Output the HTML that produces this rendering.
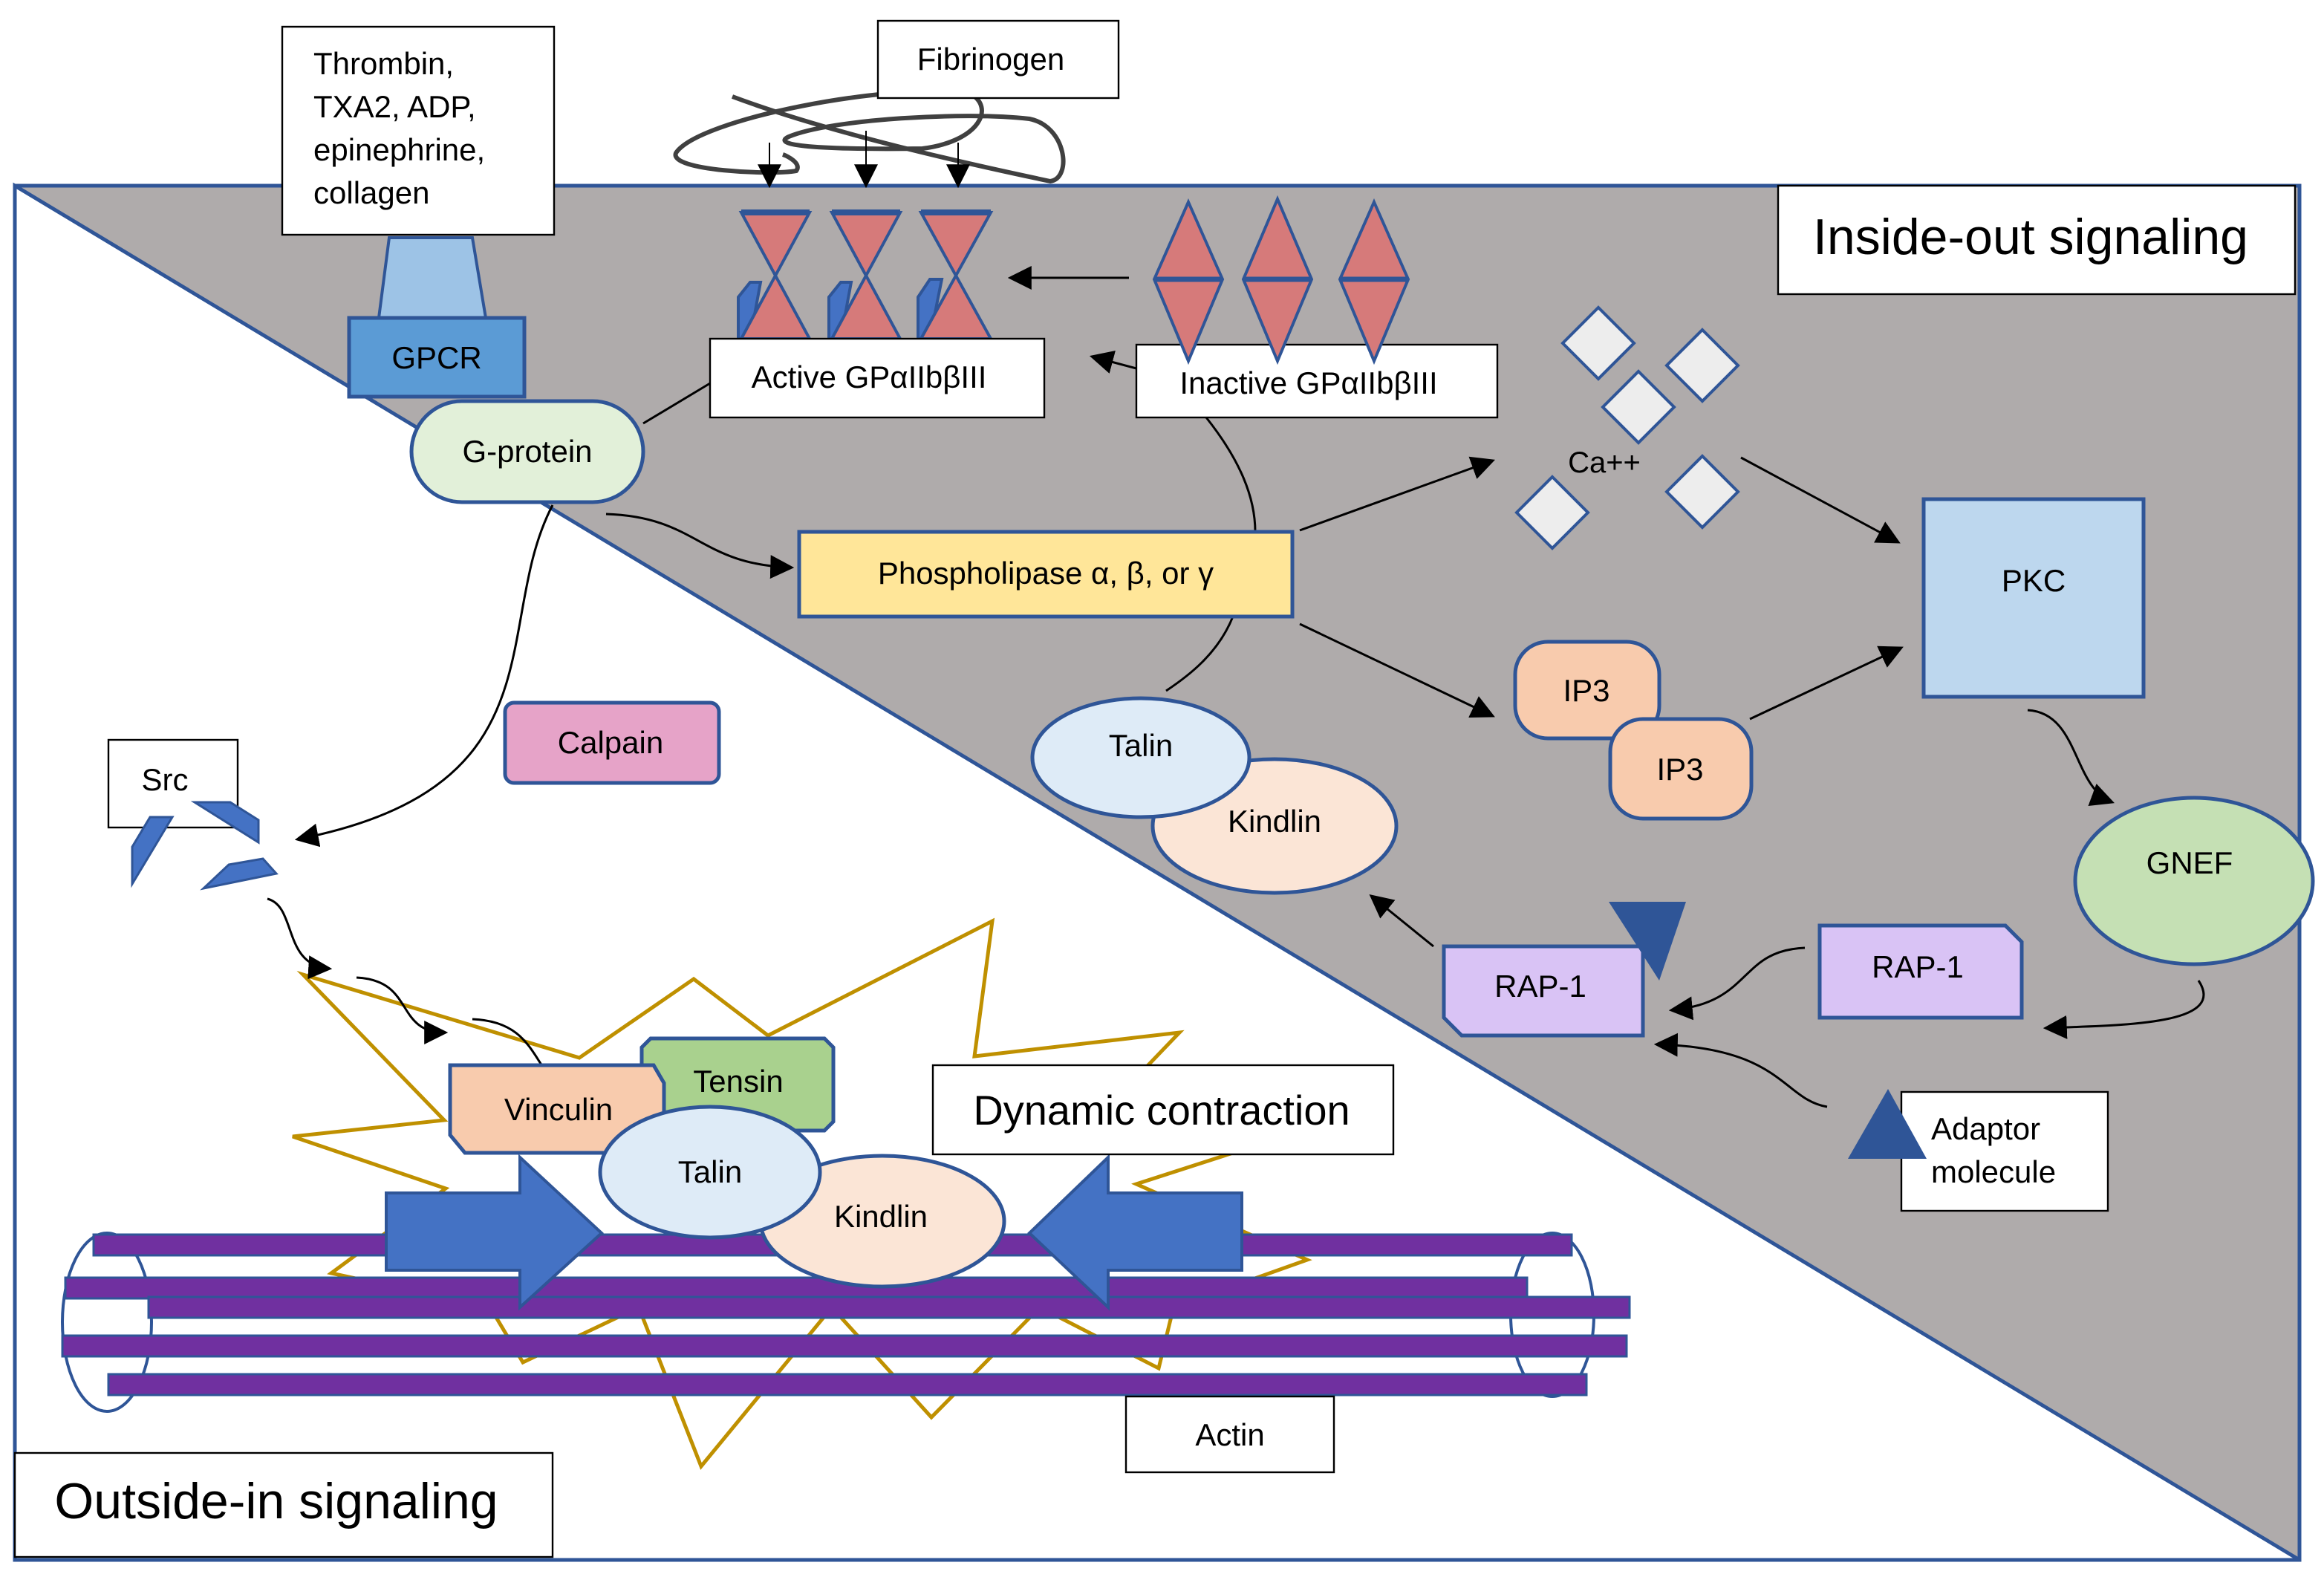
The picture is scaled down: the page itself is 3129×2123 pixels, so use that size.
<!DOCTYPE html>
<html><head><meta charset="utf-8"><style>html,body{margin:0;padding:0;background:#fff}svg{display:block}text{font-family:"Liberation Sans",sans-serif;fill:#000}</style></head><body>
<svg width="3129" height="2123" viewBox="0 0 1564.5 1061.5" xmlns="http://www.w3.org/2000/svg">
<defs>
<marker id="ab" viewBox="0 0 10 10" refX="9" refY="5" markerWidth="16" markerHeight="16" orient="auto" markerUnits="userSpaceOnUse"><path d="M0,0L10,5L0,10z" fill="#000"/></marker>
</defs>
<rect width="1564.5" height="1061.5" fill="#fff"/>
<polygon points="10,125 1548,125 1548,1050" fill="#AFABAB"/>
<polyline points="10,125 1548,125 1548,1050 10,1050 10,125 1548,1050" fill="none" stroke="#2F5597" stroke-width="2.5"/>

<!-- fibrinogen -->
<path d="M493,65 C560,90 650,110 707,122 C722,120 718,85 693,80 C650,75 560,80 531,92 C520,97 540,101 621,100 C660,95 670,72 653,63 C600,55 470,80 455,103 C450,115 520,118 536,115 C540,110 530,105 527,104" fill="none" stroke="#404040" stroke-width="3"/>
<line x1="518" y1="96" x2="518" y2="125" stroke="#000" stroke-width="1" marker-end="url(#ab)"/>
<line x1="583" y1="88" x2="583" y2="125" stroke="#000" stroke-width="1" marker-end="url(#ab)"/>
<line x1="645" y1="96" x2="645" y2="125" stroke="#000" stroke-width="1" marker-end="url(#ab)"/>
<rect x="591" y="14" width="162" height="52" fill="#fff" stroke="#000" stroke-width="1.2"/>
<text x="667" y="47" font-size="21" text-anchor="middle">Fibrinogen</text>

<!-- starburst -->
<polygon points="204,656 390,712 467,659 517,697 668,620 656,711 794,695 770,720 830,776 765,797 880,848 790,880 780,921 700,880 627,954 560,880 472,987 430,880 352,917 330,880 223,857 300,800 197,765 299,754" fill="none" stroke="#BF9000" stroke-width="2.5"/>

<!-- thrombin box, GPCR -->
<rect x="190" y="18" width="183" height="140" fill="#fff" stroke="#000" stroke-width="1.2"/>
<text font-size="21"><tspan x="211" y="50">Thrombin,</tspan><tspan x="211" y="79">TXA2, ADP,</tspan><tspan x="211" y="108">epinephrine,</tspan><tspan x="211" y="137">collagen</tspan></text>
<polygon points="262,160 318,160 327,214 255,214" fill="#9DC3E6" stroke="#2F5597" stroke-width="2"/>
<rect x="235" y="214" width="118" height="53" fill="#5B9BD5" stroke="#2F5597" stroke-width="2.5"/>
<text x="294" y="248" font-size="21" text-anchor="middle">GPCR</text>
<rect x="277" y="270" width="156" height="68" rx="34" fill="#E2F0D9" stroke="#2F5597" stroke-width="2.5"/>
<text x="355" y="311" font-size="21" text-anchor="middle">G-protein</text>

<!-- active integrins -->
<g fill="#D67A7A" stroke="#2F5597" stroke-width="2">
<polygon points="497,200 505,190 512,190 505,228 497,228" fill="#4472C4"/>
<polygon points="558,200 566,190 573,190 566,228 558,228" fill="#4472C4"/>
<polygon points="618,200 626,188 634,188 626,228 618,228" fill="#4472C4"/>
<polygon points="499,143 545,143 499,228 545,228"/>
<polygon points="560,143 606,143 560,228 606,228"/>
<polygon points="620,143 667,143 620,228 667,228"/>
</g>
<g stroke="#2F5597" stroke-width="4"><line x1="499" y1="143" x2="545" y2="143"/><line x1="560" y1="143" x2="606" y2="143"/><line x1="620" y1="143" x2="667" y2="143"/></g>
<rect x="478" y="228" width="225" height="53" fill="#fff" stroke="#000" stroke-width="1.2"/>
<text x="585" y="261" font-size="21" text-anchor="middle">Active GPαIIbβIII</text>

<!-- inactive -->
<rect x="765" y="232" width="243" height="49" fill="#fff" stroke="#000" stroke-width="1.2"/>
<text x="881" y="265" font-size="21" text-anchor="middle">Inactive GPαIIbβIII</text>
<g fill="#D67A7A" stroke="#2F5597" stroke-width="2">
<polygon points="800,136 823,188 800,243 777,188"/>
<polygon points="860,134 883,188 860,243 837,188"/>
<polygon points="925,136 948,188 925,243 902,188"/>
</g>
<g stroke="#2F5597" stroke-width="3.5"><line x1="777" y1="188" x2="823" y2="188"/><line x1="837" y1="188" x2="883" y2="188"/><line x1="902" y1="188" x2="948" y2="188"/></g>
<line x1="760" y1="187" x2="680" y2="187" stroke="#000" stroke-width="1.5" marker-end="url(#ab)"/>
<line x1="765" y1="248" x2="735" y2="240" stroke="#000" stroke-width="1.5" marker-end="url(#ab)"/>

<!-- inside-out label -->
<rect x="1197" y="125" width="348" height="73" fill="#fff" stroke="#000" stroke-width="1.2"/>
<text x="1367" y="171" font-size="34" text-anchor="middle">Inside-out signaling</text>

<!-- Ca -->
<g fill="#EDEDED" stroke="#2F5597" stroke-width="2">
<polygon points="1076,207 1100,231 1076,255 1052,231"/>
<polygon points="1146,222 1170,246 1146,270 1122,246"/>
<polygon points="1103,250 1127,274 1103,298 1079,274"/>
<polygon points="1045,321 1069,345 1045,369 1021,345"/>
<polygon points="1146,307 1170,331 1146,355 1122,331"/>
</g>
<text x="1080" y="318" font-size="20" text-anchor="middle">Ca++</text>

<rect x="1295" y="336" width="148" height="133" fill="#BDD7EE" stroke="#2F5597" stroke-width="2.5"/>
<text x="1369" y="398" font-size="21" text-anchor="middle">PKC</text>

<!-- connectors -->
<g fill="none" stroke="#000" stroke-width="1.5">
<path d="M433,285 L478,258"/>
<path d="M408,346 C470,348 470,380 533,382" marker-end="url(#ab)"/>
<path d="M372,340 C330,420 380,530 200,565" marker-end="url(#ab)"/>
<path d="M812,281 C835,310 845,335 845,358"/>
<path d="M830,415 C820,440 800,455 785,465"/>
<path d="M875,357 L1005,310" marker-end="url(#ab)"/>
<path d="M875,420 L1005,482" marker-end="url(#ab)"/>
<path d="M1172,308 L1278,365" marker-end="url(#ab)"/>
<path d="M1178,484 L1280,436" marker-end="url(#ab)"/>
<path d="M1365,478 C1400,480 1395,530 1422,540" marker-end="url(#ab)"/>
<path d="M1480,660 C1500,690 1430,690 1377,692" marker-end="url(#ab)"/>
<path d="M1215,638 C1170,640 1180,675 1125,680" marker-end="url(#ab)"/>
<path d="M1230,745 C1200,740 1200,705 1115,703" marker-end="url(#ab)"/>
<path d="M965,637 L923,603" marker-end="url(#ab)"/>
<path d="M180,605 C200,610 190,650 222,652" marker-end="url(#ab)"/>
<path d="M240,658 C280,660 265,695 300,695" marker-end="url(#ab)"/>
<path d="M318,686 C370,688 355,735 395,735" marker-end="url(#ab)"/>
</g>

<rect x="538" y="358" width="332" height="57" fill="#FFE699" stroke="#2F5597" stroke-width="2.5"/>
<text x="704" y="393" font-size="21" text-anchor="middle">Phospholipase α, β, or γ</text>

<rect x="1020" y="432" width="97" height="65" rx="22" fill="#F8CBAD" stroke="#2F5597" stroke-width="2.5"/>
<text x="1068" y="472" font-size="21" text-anchor="middle">IP3</text>
<rect x="1084" y="484" width="95" height="67" rx="22" fill="#F8CBAD" stroke="#2F5597" stroke-width="2.5"/>
<text x="1131" y="525" font-size="21" text-anchor="middle">IP3</text>

<ellipse cx="858" cy="556" rx="82" ry="45" fill="#FBE5D6" stroke="#2F5597" stroke-width="2.5"/>
<ellipse cx="768" cy="510" rx="73" ry="40" fill="#DEEBF7" stroke="#2F5597" stroke-width="2.5"/>
<text x="768" y="509" font-size="21" text-anchor="middle">Talin</text>
<text x="858" y="560" font-size="21" text-anchor="middle">Kindlin</text>

<ellipse cx="1477" cy="593" rx="80" ry="56" fill="#C5E0B4" stroke="#2F5597" stroke-width="2.5"/>
<text x="1474" y="588" font-size="21" text-anchor="middle">GNEF</text>

<polygon points="972,637 1106,637 1106,697 984,697 972,685" fill="#D9C3F5" stroke="#2F5597" stroke-width="2.5"/>
<text x="1037" y="671" font-size="21" text-anchor="middle">RAP-1</text>
<polygon points="1083,607 1135,607 1117,660" fill="#2F5597"/>
<polygon points="1225,623 1350,623 1361,634 1361,685 1225,685" fill="#D9C3F5" stroke="#2F5597" stroke-width="2.5"/>
<text x="1291" y="658" font-size="21" text-anchor="middle">RAP-1</text>

<rect x="1280" y="735" width="139" height="80" fill="#fff" stroke="#000" stroke-width="1.2"/>
<polygon points="1244,780 1297,780 1271,733" fill="#2F5597"/>
<text font-size="21"><tspan x="1300" y="767">Adaptor</tspan><tspan x="1300" y="796">molecule</tspan></text>

<rect x="340" y="473" width="144" height="54" rx="6" fill="#E6A3C8" stroke="#2F5597" stroke-width="2.5"/>
<text x="411" y="507" font-size="21" text-anchor="middle">Calpain</text>

<rect x="73" y="498" width="87" height="59" fill="#fff" stroke="#000" stroke-width="1.2"/>
<text x="111" y="532" font-size="21" text-anchor="middle">Src</text>
<g fill="#4472C4" stroke="#2F5597" stroke-width="1.5">
<polygon points="101,550 116,550 89,595 89,570"/>
<polygon points="131,540 155,540 174,552 174,567"/>
<polygon points="154,582 177,578 186,588 137,598"/>
</g>

<!-- actin -->
<ellipse cx="72" cy="890" rx="30" ry="60" fill="none" stroke="#2F5597" stroke-width="2"/>
<ellipse cx="1045" cy="885" rx="28" ry="55" fill="none" stroke="#2F5597" stroke-width="2"/>
<g fill="#7030A0" stroke="#2F5597" stroke-width="1.5">
<rect x="63" y="831" width="995" height="14"/>
<rect x="44" y="860" width="984" height="14"/>
<rect x="100" y="873" width="997" height="14"/>
<rect x="42" y="899" width="1053" height="14"/>
<rect x="73" y="925" width="995" height="14"/>
</g>

<!-- focal complex -->
<polygon points="432,705 438,699 555,699 561,705 561,755 555,761 432,761" fill="#A9D18E" stroke="#2F5597" stroke-width="2.5"/>
<text x="497" y="735" font-size="21" text-anchor="middle">Tensin</text>
<polygon points="303,717 440,717 447,729 447,776 313,776 303,764" fill="#F8CBAD" stroke="#2F5597" stroke-width="2.5"/>
<text x="376" y="754" font-size="21" text-anchor="middle">Vinculin</text>

<polygon points="260,803 350,803 350,779 405,830 350,880 350,855 260,855" fill="#4472C4" stroke="#2F5597" stroke-width="2"/>
<polygon points="836,803 746,803 746,779 693,830 746,880 746,855 836,855" fill="#4472C4" stroke="#2F5597" stroke-width="2"/>

<ellipse cx="594" cy="822" rx="82" ry="44" fill="#FBE5D6" stroke="#2F5597" stroke-width="2.5"/>
<ellipse cx="478" cy="789" rx="74" ry="44" fill="#DEEBF7" stroke="#2F5597" stroke-width="2.5"/>
<text x="478" y="796" font-size="21" text-anchor="middle">Talin</text>
<text x="593" y="826" font-size="21" text-anchor="middle">Kindlin</text>

<rect x="628" y="717" width="310" height="60" fill="#fff" stroke="#000" stroke-width="1.2"/>
<text x="782" y="757" font-size="28" text-anchor="middle">Dynamic contraction</text>

<rect x="758" y="940" width="140" height="51" fill="#fff" stroke="#000" stroke-width="1.2"/>
<text x="828" y="973" font-size="21" text-anchor="middle">Actin</text>

<rect x="10" y="978" width="362" height="70" fill="#fff" stroke="#000" stroke-width="1.2"/>
<text x="186" y="1022" font-size="34" text-anchor="middle">Outside-in signaling</text>
</svg>
</body></html>
